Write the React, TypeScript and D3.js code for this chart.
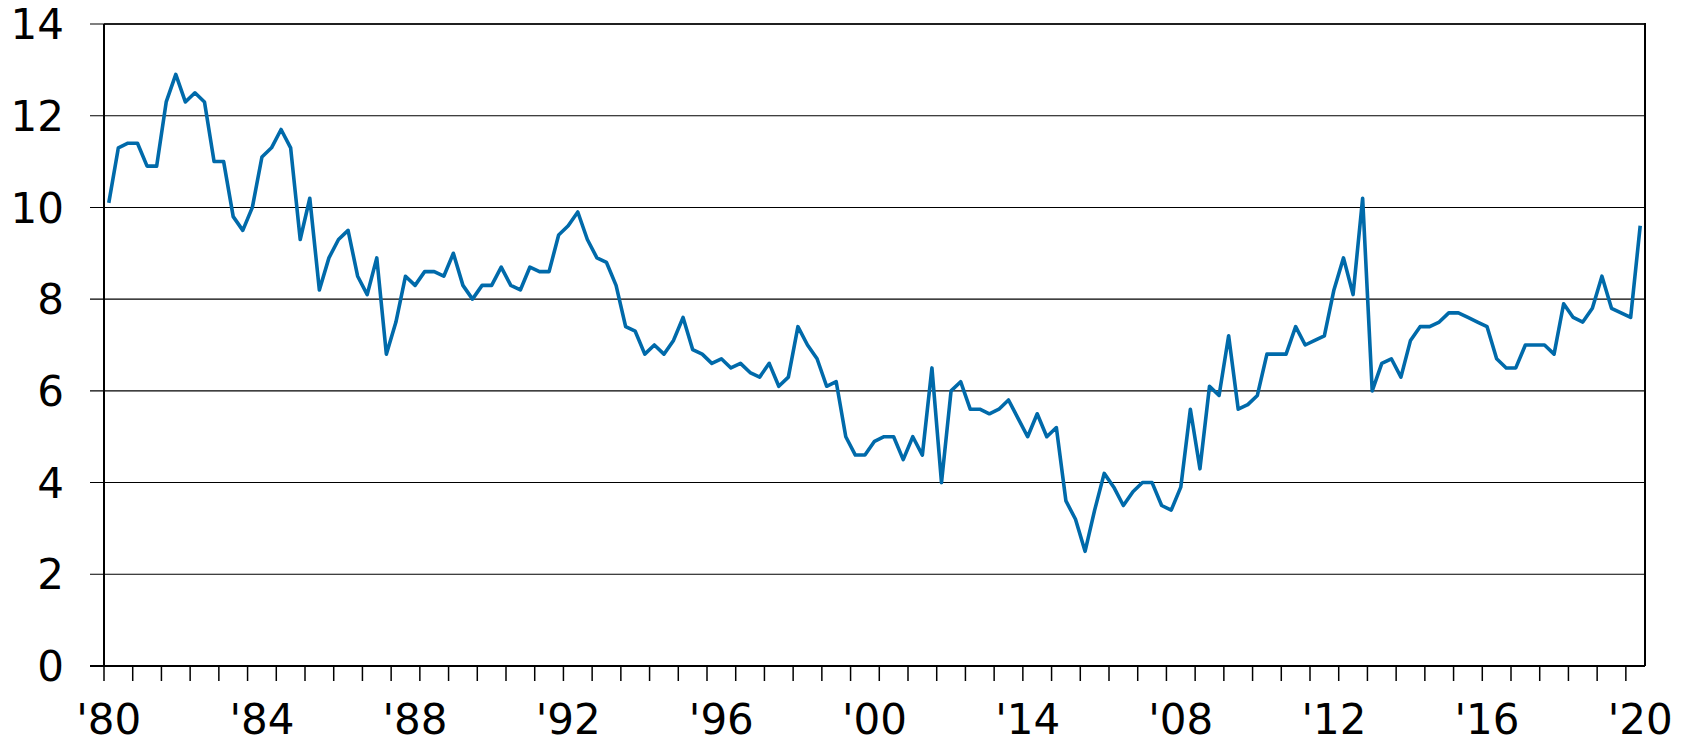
import React from 'react';
import * as d3 from 'd3';

// quarterly values, 1980 Q1 .. 2020 Q1
const values: number[] = [
  10.1, 11.3, 11.4, 11.4, 10.9, 10.9, 12.3, 12.9, 12.3, 12.5, 12.3, 11.0, 11.0, 9.8, 9.5, 10.0,
  11.1, 11.3, 11.7, 11.3, 9.3, 10.2, 8.2, 8.9, 9.3, 9.5, 8.5, 8.1, 8.9, 6.8, 7.5, 8.5,
  8.3, 8.6, 8.6, 8.5, 9.0, 8.3, 8.0, 8.3, 8.3, 8.7, 8.3, 8.2, 8.7, 8.6, 8.6, 9.4,
  9.6, 9.9, 9.3, 8.9, 8.8, 8.3, 7.4, 7.3, 6.8, 7.0, 6.8, 7.1, 7.6, 6.9, 6.8, 6.6,
  6.7, 6.5, 6.6, 6.4, 6.3, 6.6, 6.1, 6.3, 7.4, 7.0, 6.7, 6.1, 6.2, 5.0, 4.6, 4.6,
  4.9, 5.0, 5.0, 4.5, 5.0, 4.6, 6.5, 4.0, 6.0, 6.2, 5.6, 5.6, 5.5, 5.6, 5.8, 5.4,
  5.0, 5.5, 5.0, 5.2, 3.6, 3.2, 2.5, 3.4, 4.2, 3.9, 3.5, 3.8, 4.0, 4.0, 3.5, 3.4,
  3.9, 5.6, 4.3, 6.1, 5.9, 7.2, 5.6, 5.7, 5.9, 6.8, 6.8, 6.8, 7.4, 7.0, 7.1, 7.2,
  8.2, 8.9, 8.1, 10.2, 6.0, 6.6, 6.7, 6.3, 7.1, 7.4, 7.4, 7.5, 7.7, 7.7, 7.6, 7.5,
  7.4, 6.7, 6.5, 6.5, 7.0, 7.0, 7.0, 6.8, 7.9, 7.6, 7.5, 7.8, 8.5, 7.8, 7.7, 7.6,
  9.6,
];

// label every 16 quarters (the '14 is as printed in the source)
const xLabels = ["'80", "'84", "'88", "'92", "'96", "'00", "'14", "'08", "'12", "'16", "'20"];
const yTicks = [0, 2, 4, 6, 8, 10, 12, 14];

const W = 1683;
const H = 744;
const M = { left: 104, right: 38, top: 24, bottom: 78 };
const FONT = '"DejaVu Sans", Verdana, sans-serif';

export default function App() {
  const idx = values.map((_, i) => i);
  const x = d3.scaleBand<number>().domain(idx).range([M.left, W - M.right]).padding(0);
  const y = d3.scaleLinear().domain([0, 14]).range([H - M.bottom, M.top]);
  const bw = x.bandwidth();
  const cx = (i: number) => (x(i) as number) + bw / 2;

  const line = d3.line<number>()
    .x((_, i) => cx(i))
    .y(d => y(d));

  const x0 = M.left;
  const x1 = W - M.right;
  const y0 = y(0);

  // tick marks every 3 categories
  const tickIdx = idx.filter(i => i % 3 === 0);

  return (
    <div style={{ position: 'absolute', left: 0, top: 0 }}>
      <svg width={W} height={H} style={{ display: 'block', background: '#fff' }}>
        {yTicks.map(t => (
          <g key={t}>
            <line x1={x0 - 14} x2={x1} y1={y(t)} y2={y(t)} stroke="#000" strokeWidth={t === 0 ? 2 : 1.1} />
            <text x={64} y={y(t)} dy="0.36em" textAnchor="end" fontFamily={FONT} fontSize={42} fill="#000">
              {t}
            </text>
          </g>
        ))}
        <line x1={x0} x2={x0} y1={y(14)} y2={y0} stroke="#000" strokeWidth={2} />
        <line x1={x1} x2={x1} y1={y(14) - 1} y2={y0} stroke="#000" strokeWidth={2} />
        <line x1={x0} x2={x1} y1={y(14)} y2={y(14)} stroke="#000" strokeWidth={1.6} />
        {tickIdx.map(i => (
          <line key={i} x1={x(i)} x2={x(i)} y1={y0} y2={y0 + 15} stroke="#000" strokeWidth={1.5} />
        ))}
        {xLabels.map((lab, k) => (
          <text key={k} x={cx(k * 16)} y={734} textAnchor="middle" fontFamily={FONT} fontSize={42} fill="#000">
            {lab}
          </text>
        ))}
        <path d={line(values) || ''} fill="none" stroke="#006aaa" strokeWidth={3.6} strokeLinejoin="round" />
      </svg>
    </div>
  );
}
